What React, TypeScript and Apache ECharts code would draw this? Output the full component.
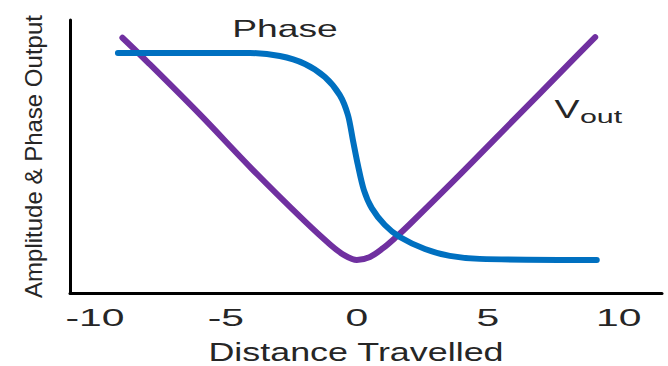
import React, { useEffect, useRef } from "react";
import * as echarts from "echarts";

// Vout (amplitude) curve
const voutX = [-8.95, -8, -6, -4, -2, -1, -0.5, 0, 0.5, 1, 1.5, 2, 4, 6, 8, 9.1];
const voutY = [9.35, 8.47, 6.55, 4.54, 2.64, 1.76, 1.4, 1.21, 1.32, 1.64, 2.05, 2.5, 4.4, 6.35, 8.3, 9.37];

// Phase curve
const phaseX = [-9.12, -4.08, -2.94, -1.98, -1.22, -0.65, -0.34, -0.15, 0.04, 0.27, 0.57, 1.07, 1.64, 2.6, 3.55, 4.69, 9.16];
const phaseY = [8.79, 8.79, 8.68, 8.39, 7.91, 7.25, 6.52, 5.6, 4.69, 3.77, 3.11, 2.49, 2.05, 1.61, 1.36, 1.25, 1.21];

const tickValues = [-10, -5, 0, 5, 10];
const tickLabels = ["-10", "-5", "0", "5", "10"];

const FONT = "'Liberation Sans', Arial, sans-serif";
const TEXT = "#262626";
const PURPLE = "#7030A0";
const BLUE = "#0070C0";

export default function App() {
  const ref = useRef<HTMLDivElement>(null);
  useEffect(() => {
    if (!ref.current) return;
    const chart = echarts.init(ref.current, null, { renderer: "svg" });
    const option: any = {
      animation: false,
      backgroundColor: "#ffffff",
      grid: { left: 70, right: 6, top: 20, bottom: 73 },
      xAxis: {
        type: "value",
        min: -10.95,
        max: 11.65,
        axisLine: { show: true, onZero: false, lineStyle: { color: "#000", width: 3 } },
        axisTick: { show: false },
        axisLabel: { show: false },
        splitLine: { show: false },
      },
      yAxis: {
        type: "value",
        min: 0,
        max: 10,
        name: "Amplitude & Phase Output",
        nameLocation: "middle",
        nameGap: 25,
        nameRotate: 90,
        nameTextStyle: { fontFamily: FONT, fontSize: 24, color: TEXT },
        axisLine: { show: true, onZero: false, lineStyle: { color: "#000", width: 3 } },
        axisTick: { show: false },
        axisLabel: { show: false },
        splitLine: { show: false },
      },
      series: [
        {
          name: "Vout",
          type: "line",
          data: voutX.map((x, i) => [x, voutY[i]]),
          showSymbol: false,
          smooth: 0.35,
          lineStyle: { color: PURPLE, width: 6, cap: "round", join: "round" },
          z: 2,
        },
        {
          name: "Phase",
          type: "line",
          data: phaseX.map((x, i) => [x, phaseY[i]]),
          showSymbol: false,
          smooth: 0.3,
          lineStyle: { color: BLUE, width: 6, cap: "round", join: "round" },
          z: 3,
        },
      ],
    };
    chart.setOption(option);

    const baseY = chart.convertToPixel({ yAxisIndex: 0 }, 0) as number;
    const ticks = tickValues.map((v, i) => ({
      type: "text",
      x: chart.convertToPixel({ xAxisIndex: 0 }, v) as number,
      y: baseY + 25,
      scaleX: 1.7,
      style: {
        text: tickLabels[i],
        fontFamily: FONT,
        fontSize: 24,
        fill: TEXT,
        align: "center",
        verticalAlign: "middle",
      },
    }));
    const labels = [
      {
        type: "text",
        x: 285,
        y: 29,
        scaleX: 1.55,
        style: { text: "Phase", fontFamily: FONT, fontSize: 24, fill: TEXT, align: "center", verticalAlign: "middle" },
      },
      {
        type: "text",
        x: 567,
        y: 109,
        scaleX: 1.5,
        style: { text: "V", fontFamily: FONT, fontSize: 25, fill: TEXT, align: "center", verticalAlign: "middle" },
      },
      {
        type: "text",
        x: 601,
        y: 116,
        scaleX: 1.6,
        style: { text: "out", fontFamily: FONT, fontSize: 19, fill: TEXT, align: "center", verticalAlign: "middle" },
      },
      {
        type: "text",
        x: 356,
        y: 352,
        scaleX: 1.38,
        style: { text: "Distance Travelled", fontFamily: FONT, fontSize: 26, fill: TEXT, align: "center", verticalAlign: "middle" },
      },
    ];
    chart.setOption({ graphic: [...ticks, ...labels] });
    return () => chart.dispose();
  }, []);
  return (
    <div
      ref={ref}
      style={{ position: "fixed", left: 0, top: 0, width: 668, height: 366, background: "#fff" }}
    />
  );
}
